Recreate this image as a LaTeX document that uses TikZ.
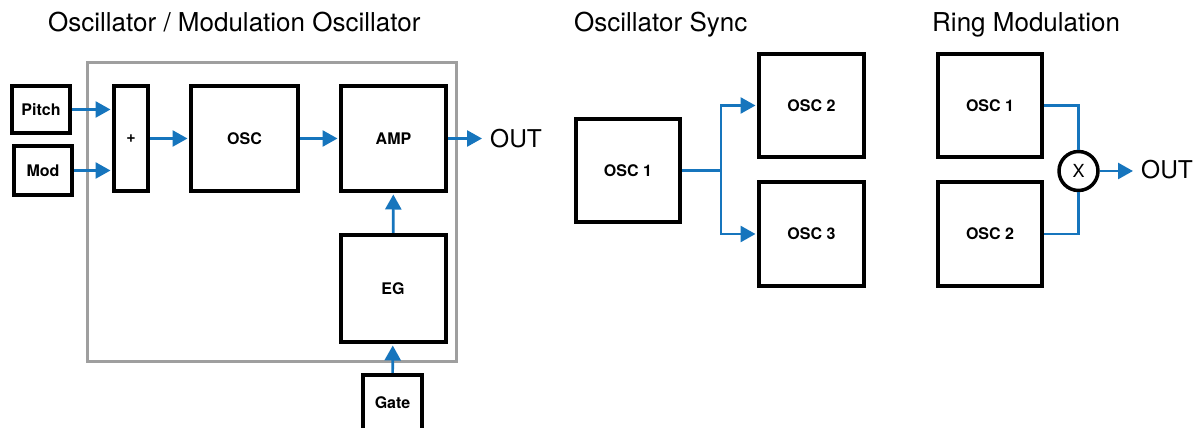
\documentclass[tikz,border=0pt]{standalone}
\usepackage{fontspec}
\setmainfont{TeX Gyre Heros}
\usetikzlibrary{arrows.meta}
\definecolor{sigblue}{RGB}{22,117,189}
\begin{document}
\begin{tikzpicture}[x=1pt,y=1pt,
  box/.style={draw,line width=4pt,inner sep=0pt,font=\bfseries\fontsize{16}{18}\selectfont},
  sig/.style={sigblue,line width=2.7pt,-{Triangle[length=15pt,width=16pt]}},
  wire/.style={sigblue,line width=2.7pt},
  title/.style={anchor=base west,inner sep=0pt,font=\fontsize{26}{30}\selectfont},
  outlabel/.style={anchor=base west,inner sep=0pt,font=\fontsize{24.5}{28}\selectfont}]
\clip (0,0) rectangle (1203,428);
\fill[white] (0,0) rectangle (1203,428);
\node[title] (t1) at (48,396) {Oscillator / Modulation Oscillator};
\node[title] (t2) at (574,396) {Oscillator Sync};
\node[title] (t3) at (932,396) {Ring Modulation};
\draw[gray!75,line width=3pt] (87.5,66.5) rectangle (456.5,365.5);
\node[box,minimum width=58pt,minimum height=47pt] (pitch) at (41,318.5) {Pitch};
\node[box,minimum width=58pt,minimum height=49pt] (mod) at (43,257.5) {Mod};
\node[box,minimum width=34pt,minimum height=105pt] (plus) at (131,289.5) {+};
\node[box,minimum width=107pt,minimum height=105pt] (osc) at (244.5,289.5) {OSC};
\node[box,minimum width=105pt,minimum height=105pt] (amp) at (393.5,289.5) {AMP};
\node[box,minimum width=105pt,minimum height=107pt] (eg) at (393,139.5) {EG};
\node[box,minimum width=59pt,minimum height=56pt] (gate) at (392.5,25) {Gate};
\node[outlabel] (out1) at (490,280) {OUT};
\draw[sig,shorten >=1.5pt] (pitch.east) -- (pitch.east -| plus.west);
\draw[sig,shorten >=1.5pt] (mod.east) -- (mod.east -| plus.west);
\draw[sig,shorten >=1.5pt] (plus) -- (osc);
\draw[sig,shorten >=1.5pt] (osc) -- (amp);
\draw[sig] (amp.east) -- ([xshift=-8pt]amp.east -| out1.west);
\draw[sig,shorten >=1.5pt] (eg) -- (amp);
\draw[sig,shorten >=1.5pt] (gate) -- (eg);
\node[box,minimum width=104pt,minimum height=103pt] (s1) at (628,257.5) {OSC 1};
\node[box,minimum width=105pt,minimum height=103pt] (s2) at (811.5,322.5) {OSC 2};
\node[box,minimum width=105pt,minimum height=104pt] (s3) at (811.5,194) {OSC 3};
\coordinate (fork) at (721,257.5);
\draw[wire] (s1.east) -- (fork);
\draw[sig,shorten >=1.5pt] (fork) |- (s2.west);
\draw[sig,shorten >=1.5pt] (fork) |- (s3.west);
\node[box,minimum width=104pt,minimum height=103pt] (r1) at (990,322.5) {OSC 1};
\node[box,minimum width=104pt,minimum height=104pt] (r2) at (990,194) {OSC 2};
\node[draw,circle,line width=3.5pt,inner sep=0pt,minimum size=39pt,font=\fontsize{18}{20}\selectfont] (mul) at (1078.5,257) {X};
\node[outlabel] (out2) at (1141,249) {OUT};
\draw[wire] (r1.east) -| (mul.north);
\draw[wire] (r2.east) -| (mul.south);
\draw[sig] (mul.east) -- ([xshift=-8pt]mul.east -| out2.west);
\end{tikzpicture}
\end{document}
